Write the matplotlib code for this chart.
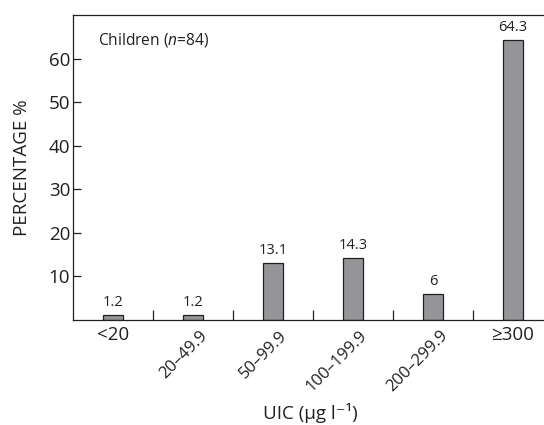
import matplotlib
matplotlib.use('Agg')
import matplotlib.pyplot as plt

plt.rcParams['font.family'] = ['Open Sans', 'DejaVu Sans']
plt.rcParams['mathtext.fontset'] = 'custom'
plt.rcParams['mathtext.rm'] = 'Open Sans'
plt.rcParams['mathtext.it'] = 'Open Sans:italic'

categories = ['<20', '20–49.9', '50–99.9', '100–199.9', '200–299.9', '≥300']
values = [1.2, 1.2, 13.1, 14.3, 6, 64.3]
value_labels = ['1.2', '1.2', '13.1', '14.3', '6', '64.3']
yticks = [10, 20, 30, 40, 50, 60]

ink = '#231f20'
fig = plt.figure(figsize=(5.44, 4.25), dpi=100)
ax = fig.add_axes([73 / 544, 105 / 425, 480 / 544, 305 / 425])

x = range(len(categories))
ax.bar(x, values, width=0.26, color='#939598', edgecolor=ink, linewidth=0.9)
for xi, v, lab in zip(x, values, value_labels):
    ax.text(xi, v + 1.1, lab, ha='center', va='bottom', fontsize=10.5, color=ink)

ax.set_xlim(-0.5, 5.5)
ax.set_ylim(0, 70)
ax.set_yticks(yticks)
ax.set_yticklabels([str(t) for t in yticks], fontsize=13.5, color=ink)
ax.tick_params(axis='y', direction='in', length=6, width=0.9, color=ink, pad=2)

# category ticks sit at the boundaries between bars
ax.set_xticks([i + 0.5 for i in range(len(categories) - 1)])
ax.set_xticklabels([])
ax.tick_params(axis='x', direction='in', length=7, width=0.9, color=ink)
for xi, lab in zip(x, categories):
    if lab in ('<20', '≥300'):
        ax.text(xi, -1.4, lab, ha='center', va='top', fontsize=13.5, color=ink)
    else:
        ax.text(xi + 0.08, -1.8, lab, ha='right', va='top', rotation=45,
                rotation_mode='anchor', fontsize=12, color=ink)

for side in ['left', 'bottom', 'top']:
    ax.spines[side].set_color(ink)
    ax.spines[side].set_linewidth(0.9)
ax.spines['right'].set_visible(False)

ax.text(0.052, 0.918, r'Children ($n$=84)', transform=ax.transAxes,
        ha='left', va='center', fontsize=11.2, color=ink)

fig.text(22 / 544, 1 - 168 / 425, 'PERCENTAGE %', rotation=90, ha='center',
         va='center', fontsize=13.5, color=ink)
fig.text(310 / 544, 1 - 413 / 425, 'UIC (μg l⁻¹)', ha='center', va='center',
         fontsize=13.5, color=ink)

fig.savefig('out.png', dpi=100)
